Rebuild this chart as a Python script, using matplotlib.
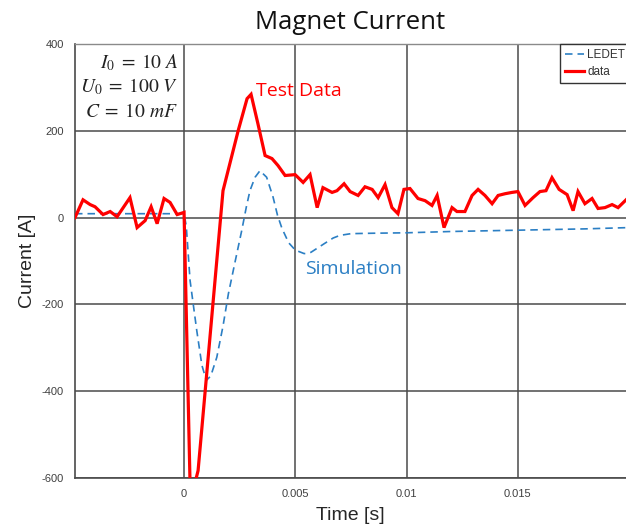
import matplotlib
matplotlib.use("Agg")
import matplotlib.pyplot as plt
import numpy as np

# ---- data (time in ms, current in A) ----
data_t_ms = [-4.90, -4.54, -4.22, -4.00, -3.64, -3.32, -3.01, -2.43, -2.11, -1.75,
             -1.48, -1.21, -0.90, -0.63, -0.31, 0.00, 0.27, 0.45, 0.63, 1.75,
             2.43, 2.83, 3.01, 3.32, 3.64, 3.95, 4.22, 4.54, 4.99, 5.35,
             5.66, 5.98, 6.24, 6.65, 6.87, 7.19, 7.46, 7.82, 8.13, 8.45,
             8.72, 9.03, 9.34, 9.61, 9.88, 10.15, 10.51, 10.83, 11.14, 11.37,
             11.68, 12.04, 12.26, 12.62, 12.94, 13.21, 13.52, 13.84, 14.11, 14.42,
             14.73, 15.00, 15.32, 15.68, 15.99, 16.26, 16.53, 16.85, 17.21, 17.48,
             17.70, 18.01, 18.33, 18.60, 18.91, 19.23, 19.50, 19.86]
data_I = [0, 41, 30, 25, 7, 14, 2, 46, -23, -7,
          25, -14, 44, 35, 7, 12, -615, -620, -583, 62,
          200, 274, 284, 216, 143, 136, 120, 97, 99, 81,
          99, 23, 69, 58, 62, 78, 60, 51, 71, 65,
          46, 76, 23, 9, 65, 67, 44, 39, 28, 51,
          -23, 23, 14, 14, 51, 65, 51, 32, 51, 55,
          58, 60, 28, 46, 60, 62, 92, 65, 53, 16,
          60, 32, 44, 21, 23, 30, 23, 41]

ledet_t_ms = [-4.90, 0.00, 0.10, 0.27, 0.57, 0.80, 1.00, 1.20, 1.47, 1.75,
              1.99, 2.30, 2.59, 2.80, 2.96, 3.19, 3.41, 3.71, 4.00, 4.20,
              4.40, 4.70, 5.00, 5.40, 5.70, 6.00, 6.30, 6.70, 7.00, 7.50,
              8.50, 10.0, 12.0, 14.0, 16.0, 18.0, 20.0]
ledet_I = [9, 9, -20, -145, -260, -340, -375, -365, -322, -250,
           -176, -100, -30, 25, 62, 93, 108, 93, 47, 5,
           -25, -58, -75, -83, -80, -70, -60, -47, -41, -37,
           -36, -35, -32, -30, -28, -26, -23]

x_ticks = [0, 0.005, 0.01, 0.015]
x_tick_labels = ["0", "0.005", "0.01", "0.015"]
y_ticks = [-600, -400, -200, 0, 200, 400]
y_tick_labels = ["-600", "-400", "-200", "0", "200", "400"]

red = "#ff0000"
blue = "#2b7fc4"

plt.rcParams["mathtext.fontset"] = "stix"

fig = plt.figure(figsize=(6.26, 5.30), dpi=100)
ax = fig.add_axes([75 / 626, 1 - 478 / 530, 1 - 75 / 626, (478 - 44) / 530])

t_data = np.array(data_t_ms) / 1000.0
t_led = np.array(ledet_t_ms) / 1000.0

ax.plot(t_led, ledet_I, color=blue, lw=1.2, ls=(0, (4.5, 3.0)), label="LEDET", zorder=3)
ax.plot(t_data, data_I, color=red, lw=2.3, label="data", zorder=4, solid_joinstyle="miter")

ax.set_xlim(-0.0049, 0.019856)
ax.set_ylim(-600, 400)
ax.set_xticks(x_ticks)
ax.set_xticklabels(x_tick_labels)
ax.set_yticks(y_ticks)
ax.set_yticklabels(y_tick_labels)
ax.tick_params(length=0, labelsize=8, labelcolor="#404040", pad=8)
for lab in ax.get_xticklabels() + ax.get_yticklabels():
    lab.set_family("Liberation Sans")

ax.grid(True, color="#4a4a4a", lw=1.1)
ax.set_axisbelow(True)
for s in ["left", "bottom"]:
    ax.spines[s].set_color("#4a4a4a")
    ax.spines[s].set_linewidth(1.2)
ax.spines["top"].set_color("#8a8a8a")
ax.spines["top"].set_linewidth(1.0)
ax.spines["right"].set_visible(False)

ax.set_xlabel("Time [s]", family="Liberation Sans", fontsize=14, color="#262626", labelpad=6)
ax.set_ylabel("Current [A]", family="Liberation Sans", fontsize=14, color="#262626", labelpad=4)
ax.set_title("Magnet Current", family="Open Sans", fontsize=18.5, color="#111111", pad=11)

ax.text(-0.00027, 357, r"$I_0\;=\;10\ A$", ha="right", va="center", fontsize=14, color="#222222")
ax.text(-0.00027, 302, r"$U_0\;=\;100\ V$", ha="right", va="center", fontsize=14, color="#222222")
ax.text(-0.00027, 245, r"$C\;=\;10\ mF$", ha="right", va="center", fontsize=14, color="#222222")

ax.text(0.00323, 281, "Test Data", color=red, family="Open Sans", fontsize=14, ha="left", va="baseline")
ax.text(0.00544, -131, "Simulation", color=blue, family="Open Sans", fontsize=14, ha="left", va="baseline")

leg = ax.legend(loc="upper left", bbox_to_anchor=((560 - 75) / 551, 1.0), borderaxespad=0,
                frameon=True, fancybox=False, framealpha=1,
                edgecolor="#333333", handlelength=1.6, handletextpad=0.3,
                labelspacing=0.45, borderpad=0.4,
                prop={"family": "Liberation Sans", "size": 8.5})
leg.get_frame().set_linewidth(1.0)
for txt in leg.get_texts():
    txt.set_color("#333333")

fig.savefig("out.png", dpi=100)
